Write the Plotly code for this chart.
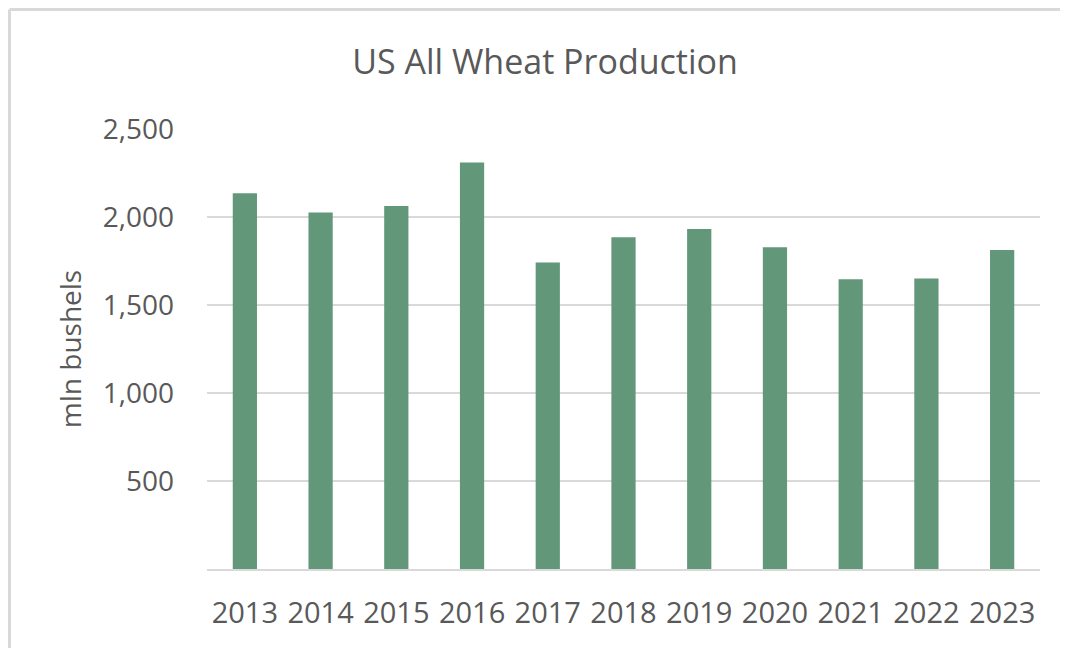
import plotly.graph_objects as go

years = ["2013", "2014", "2015", "2016", "2017", "2018", "2019", "2020", "2021", "2022", "2023"]
production = [2135, 2026, 2062, 2309, 1741, 1885, 1932, 1828, 1646, 1650, 1812]
y_ticks = [500, 1000, 1500, 2000, 2500]
y_tick_text = ["500", "1,000", "1,500", "2,000", "2,500"]

W, H = 1060, 640
ML, MR, MT, MB = 199, 28, 121, 79
PW, PH = W - ML - MR, H - MT - MB

fig = go.Figure()
fig.add_trace(go.Bar(x=years, y=production, marker=dict(color="#639779", line=dict(width=0)),
                     width=0.32))

font_family = "Open Sans"
fig.update_layout(
    width=W, height=H,
    paper_bgcolor="white", plot_bgcolor="white",
    margin=dict(l=ML, r=MR, t=MT, b=MB),
    showlegend=False,
    title=dict(text="US All Wheat Production", x=(545 - 8 - ML) / PW, xref="paper", xanchor="center",
               y=1 - 54 / H, yanchor="middle",
               font=dict(family=font_family, size=34, color="#595959")),
    xaxis=dict(showgrid=False, showline=True, linecolor="#d9d9d9", linewidth=2,
               ticks="", tickfont=dict(family=font_family, size=29, color="#595959"),
               ticklabelstandoff=17),
    yaxis=dict(range=[0, 2500], tickvals=y_ticks, ticktext=y_tick_text,
               showgrid=True, gridcolor="#d9d9d9", gridwidth=2, zeroline=False,
               showline=False, ticks="",
               tickfont=dict(family=font_family, size=28, color="#595959"),
               ticklabelstandoff=32,
               title=dict(text="mln bushels", standoff=12,
                          font=dict(family=font_family, size=28, color="#595959"))),
)
left_x = -(ML - 1.5) / PW
top_y = 1 + (MT - 1.5) / PH
fig.add_shape(type="line", xref="paper", yref="paper",
              x0=left_x, x1=left_x, y0=-MB / PH - 0.1, y1=top_y,
              line=dict(color="#d9d9d9", width=3), layer="below")
fig.add_shape(type="line", xref="paper", yref="paper",
              x0=left_x, x1=1 + (MR + 20) / PW, y0=top_y, y1=top_y,
              line=dict(color="#d9d9d9", width=3), layer="below")
fig.write_html("out.html")
